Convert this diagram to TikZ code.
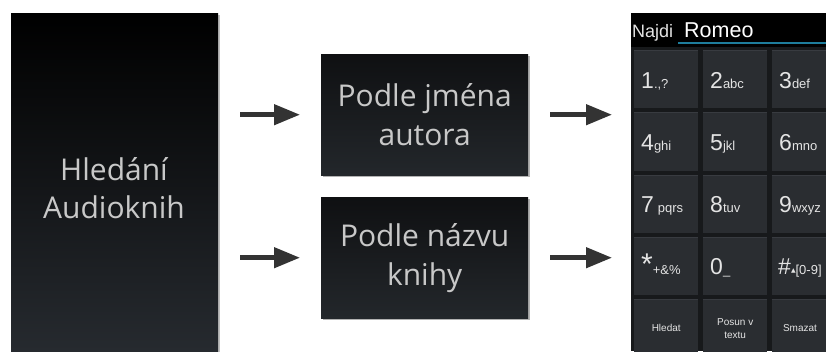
\documentclass[tikz,border=0pt]{standalone}
\usepackage{fontspec}
\setmainfont{Open Sans}
\newfontfamily\phonefont{Liberation Sans}
\newfontfamily\symfont{DejaVu Sans}
\usetikzlibrary{arrows.meta,shadows}
\definecolor{txtgray}{HTML}{C8C8C8}
\definecolor{panelbot}{HTML}{262A2F}
\definecolor{boxtop}{HTML}{0F1012}
\definecolor{boxbot}{HTML}{23272B}
\definecolor{arrowcol}{HTML}{333333}
\definecolor{keycol}{HTML}{2A2D31}
\definecolor{keyedge}{HTML}{383B40}
\definecolor{keygap}{HTML}{17191B}
\definecolor{underl}{HTML}{1E7D9C}
\definecolor{phonetxt}{HTML}{E4E4E4}
\tikzset{
  darkpanel/.style={inner sep=0pt, top color=black, bottom color=panelbot,
    drop shadow={shadow xshift=2pt, shadow yshift=-1.5pt, opacity=0.25, fill=black}},
  choicebox/.style={inner sep=0pt, minimum width=207pt, minimum height=121pt,
    top color=boxtop, bottom color=boxbot, text=txtgray, align=center,
    font=\fontsize{30}{39}\selectfont,
    drop shadow={shadow xshift=2pt, shadow yshift=-2pt, opacity=0.3, fill=black}},
  flowarrow/.style={draw=arrowcol, line width=4.5pt,
    -{Triangle[length=26pt,width=20pt]}},
  keybox/.style={inner sep=0pt, minimum width=64pt, minimum height=58pt,
    fill=keycol, anchor=north west},
  digit/.style={anchor=base west, inner sep=0pt, text=phonetxt,
    font=\phonefont\fontsize{23}{23}\selectfont},
  keyword/.style={align=center, inner sep=0pt, text=phonetxt,
    font=\phonefont\fontsize{10}{12.5}\selectfont},
}
\newcommand{\keysub}[1]{{\fontsize{13}{13}\selectfont #1}}
\begin{document}
\begin{tikzpicture}[x=1pt,y=-1pt]
\useasboundingbox (0,0) rectangle (826,351);
\fill[white] (0,0) rectangle (826,351);

% left panel
\node[darkpanel, anchor=north west, minimum width=207pt, minimum height=338pt] (panel) at (11,13) {};
\node[text=txtgray, align=center, font=\fontsize{30}{38}\selectfont] (title) at (114,188) {Hledání\\Audioknih};

% middle boxes
\node[choicebox, anchor=north west] (b1) at (321,54) {Podle jména\\autora};
\node[choicebox, anchor=north west] (b2) at (321,197) {Podle názvu\\knihy};

% phone
\node[inner sep=0pt, anchor=north west, minimum width=195pt, minimum height=338pt, fill=keygap] (phone) at (631,13) {};
\begin{scope}
\clip (phone.north west) rectangle (phone.south east);
\fill[black] (phone.north west) rectangle ([yshift=-34pt]phone.north east);
\node[anchor=base west, inner sep=0pt, text=phonetxt, font=\phonefont\fontsize{18}{18}\selectfont] (najdi) at (632,37) {Najdi};
\node[anchor=base west, inner sep=0pt, text=white, font=\phonefont\fontsize{21.5}{22}\selectfont] (romeo) at (684,37) {Romeo};
\coordinate (ulstart) at (678,43);
\draw[underl, line width=1.2pt] (ulstart) -- (ulstart -| phone.east);
\foreach \r in {0,...,4}{
  \foreach \c in {0,1,2}{
    \node[keybox] (k-\r-\c) at ({634+69*\c},{50+62.3*\r}) {};
    \draw[keyedge, line width=0.8pt] ([yshift=-0.4pt]k-\r-\c.north west) -- ([yshift=-0.4pt]k-\r-\c.north east);
  }
}
\node[digit] at ([shift={(7,38)}]k-0-0.north west) {1\keysub{.,?}};
\node[digit] at ([shift={(7,38)}]k-0-1.north west) {2\keysub{abc}};
\node[digit] at ([shift={(7,38)}]k-0-2.north west) {3\keysub{def}};
\node[digit] at ([shift={(7,38)}]k-1-0.north west) {4\keysub{ghi}};
\node[digit] at ([shift={(7,38)}]k-1-1.north west) {5\keysub{jkl}};
\node[digit] at ([shift={(7,38)}]k-1-2.north west) {6\keysub{mno}};
\node[digit] at ([shift={(7,38)}]k-2-0.north west) {7\,\keysub{pqrs}};
\node[digit] at ([shift={(7,38)}]k-2-1.north west) {8\keysub{tuv}};
\node[digit] at ([shift={(7,38)}]k-2-2.north west) {9\keysub{wxyz}};
\node[digit] at ([shift={(7,38)}]k-3-0.north west) {{\fontsize{30}{30}\selectfont *}\keysub{+\&\%}};
\node[digit] at ([shift={(7,38)}]k-3-1.north west) {0\keysub{\_}};
\node[digit] at ([shift={(6,38)}]k-3-2.north west) {\#\keysub{\raisebox{2pt}{\symfont\fontsize{6}{6}\selectfont ▲}[0-9]}};
\node[keyword] at (k-4-0) {Hledat};
\node[keyword] at (k-4-1) {Posun v\\textu};
\node[keyword] at (800,328) {Smazat};
\end{scope}

% arrows
\draw[flowarrow, shorten <=22pt, shorten >=21pt] (panel.east |- b1.west) -- (b1.west);
\draw[flowarrow, shorten <=22pt, shorten >=21pt] (panel.east |- b2.west) -- (b2.west);
\draw[flowarrow, shorten <=22pt, shorten >=19pt] (b1.east) -- (b1.east -| phone.west);
\draw[flowarrow, shorten <=22pt, shorten >=19pt] (b2.east) -- (b2.east -| phone.west);
\end{tikzpicture}
\end{document}
